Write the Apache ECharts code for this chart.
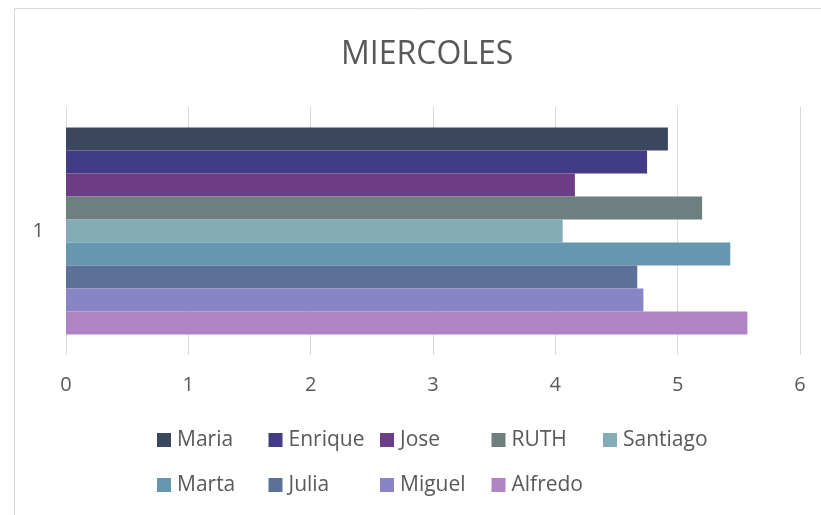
<!DOCTYPE html>
<html>
<head>
<meta charset="utf-8">
<script src="https://cdn.jsdelivr.net/npm/echarts@6/dist/echarts.min.js"></script>
<style>html,body{margin:0;padding:0;background:#fff}#c{width:821px;height:515px}</style>
</head>
<body>
<div id="c"></div>
<script>
const categories = ['1'];
const names = ['Maria','Enrique','Jose','RUTH','Santiago','Marta','Julia','Miguel','Alfredo'];
const values = [4.92, 4.75, 4.16, 5.20, 4.06, 5.43, 4.67, 4.72, 5.57];
const colors = ['#3B475E','#423B86','#6C3D85','#6E7F80','#83ACB6','#6797AE','#5C7198','#8884C5','#AE84C4'];
const xTicks = [0, 1, 2, 3, 4, 5, 6];

const font = 'Open Sans';
const txt = '#595959';

const chart = echarts.init(document.getElementById('c'), null, {renderer: 'canvas'});
const legendBase = {
  left: 157, padding: 0, itemWidth: 14, itemHeight: 14, itemGap: 6.5,
  icon: 'rect', selectedMode: false,
  textStyle: {fontFamily: font, fontSize: 21, color: txt, width: 85, lineHeight: 24, padding: [0,0,0,1]}
};
chart.setOption({
  animation: false,
  backgroundColor: '#fff',
  graphic: [{type: 'rect', shape: {x: 14.5, y: 8.5, width: 900, height: 600}, style: {fill: 'none', stroke: '#d9d9d9', lineWidth: 1}, silent: true}],
  title: {text: 'MIERCOLES', left: 341, top: 39, padding: 0, textStyle: {fontFamily: font, fontSize: 32, fontWeight: 'normal', color: txt}},
  legend: [
    Object.assign({}, legendBase, {top: 428, data: names.slice(0,5)}),
    Object.assign({}, legendBase, {top: 473, data: names.slice(5)})
  ],
  grid: {left: 66, right: 21, top: 107, bottom: 160, containLabel: false},
  xAxis: {
    type: 'value', min: xTicks[0], max: xTicks[xTicks.length-1], interval: 1,
    axisLine: {show: false}, axisTick: {show: false},
    splitLine: {show: true, lineStyle: {color: '#d9d9d9', width: 1}},
    axisLabel: {fontFamily: font, fontSize: 20, color: txt, margin: 20}
  },
  yAxis: {
    type: 'category', data: categories, inverse: true,
    axisLine: {show: false}, axisTick: {show: false},
    axisLabel: {fontFamily: font, fontSize: 20, color: txt, margin: 22}
  },
  series: names.map((n, i) => ({
    name: n, type: 'bar', data: [values[i]],
    itemStyle: {color: colors[i]},
    barGap: '0%', barCategoryGap: '16.5%'
  }))
});
</script>
</body>
</html>
